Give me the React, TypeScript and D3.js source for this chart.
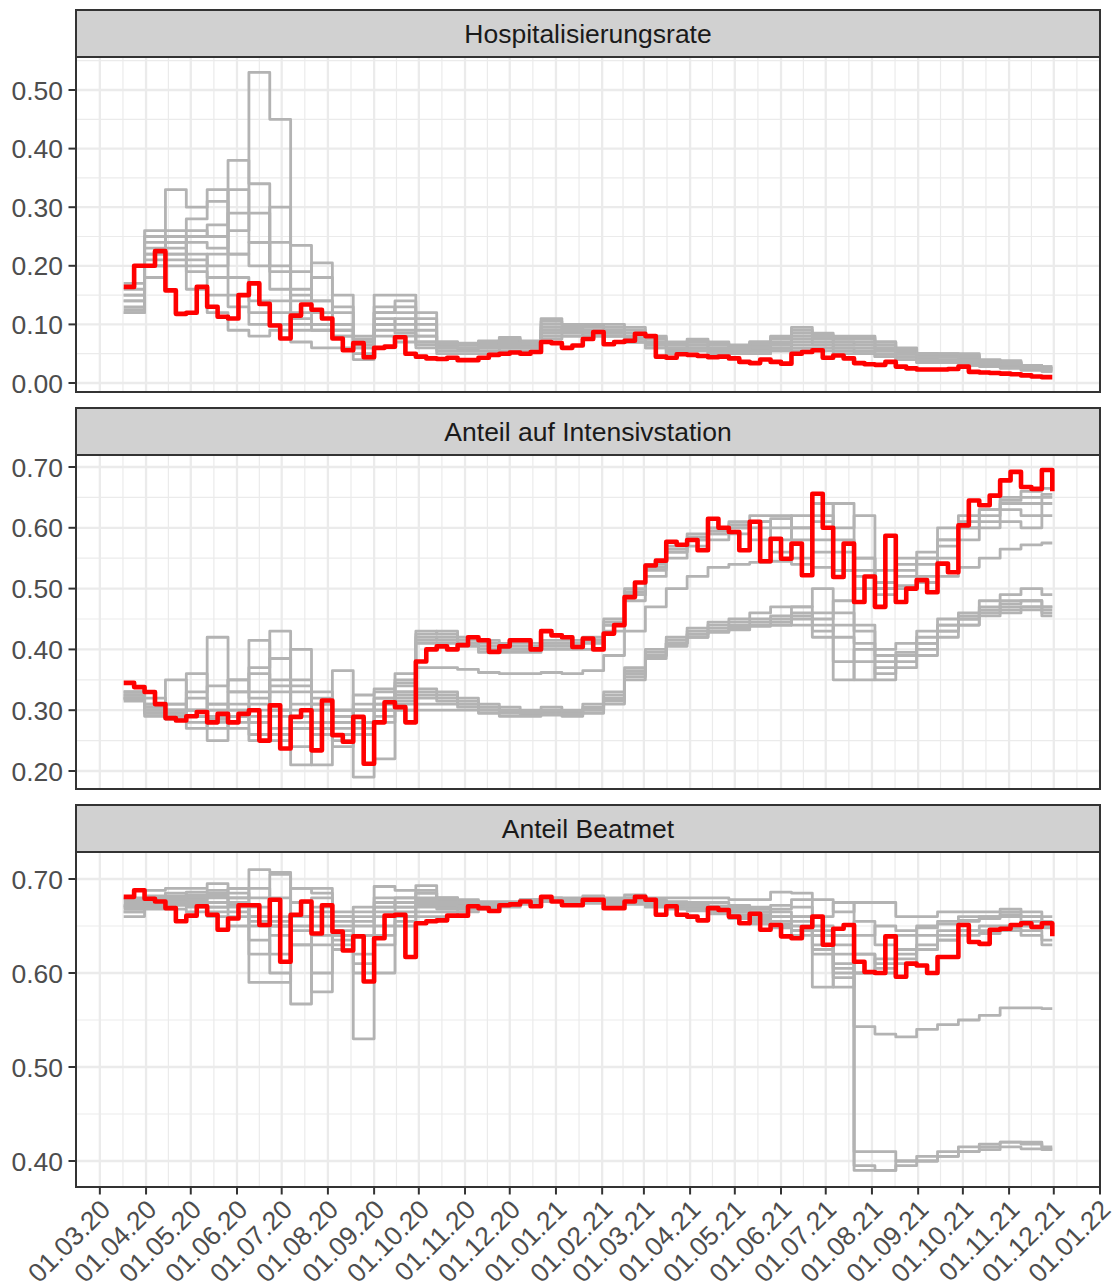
import React from "react";
import * as d3 from "d3";

// ---------- DATA ----------
const weekStart = new Date(2020, 2, 17);
const nWeeks = 90;
const xDomain: [Date, Date] = [new Date(2020, 1, 14), new Date(2022, 0, 1)];
const monthBreaks = d3.timeMonth.range(new Date(2020, 2, 1), new Date(2022, 0, 2));

const facetTitles = ["Hospitalisierungsrate", "Anteil auf Intensivstation", "Anteil Beatmet"];
const hospTicks = [0, 0.1, 0.2, 0.3, 0.4, 0.5];
const icuTicks = [0.2, 0.3, 0.4, 0.5, 0.6, 0.7];
const ventTicks = [0.4, 0.5, 0.6, 0.7];

const redHosp = [
  0.164, 0.2, 0.2, 0.225, 0.158, 0.118, 0.12, 0.164, 0.13, 0.113,
  0.11, 0.15, 0.17, 0.135, 0.098, 0.076, 0.115, 0.134, 0.125, 0.11,
  0.076, 0.056, 0.068, 0.044, 0.06, 0.062, 0.078, 0.05, 0.045, 0.042,
  0.041, 0.043, 0.039, 0.039, 0.043, 0.048, 0.05, 0.052, 0.05, 0.053,
  0.07, 0.068, 0.06, 0.064, 0.075, 0.087, 0.066, 0.07, 0.072, 0.084,
  0.08, 0.045, 0.043, 0.049, 0.048, 0.046, 0.044, 0.045, 0.042, 0.036,
  0.034, 0.04, 0.036, 0.033, 0.05, 0.053, 0.056, 0.043, 0.047, 0.042,
  0.034, 0.032, 0.031, 0.036, 0.028, 0.025, 0.023, 0.023, 0.023, 0.024,
  0.028, 0.019, 0.018, 0.017, 0.016, 0.015, 0.013, 0.011, 0.01, 0.01,
];
const redIcu = [
  0.345, 0.338, 0.33, 0.31, 0.287, 0.283, 0.29, 0.297, 0.28, 0.294,
  0.28, 0.294, 0.3, 0.25, 0.308, 0.237, 0.289, 0.3, 0.234, 0.316,
  0.259, 0.248, 0.289, 0.212, 0.28, 0.313, 0.305, 0.28, 0.38, 0.4,
  0.405, 0.4, 0.407, 0.42, 0.415, 0.396, 0.405, 0.415, 0.415, 0.4,
  0.43, 0.423, 0.42, 0.404, 0.418, 0.4, 0.426, 0.44, 0.486, 0.51,
  0.538, 0.546, 0.577, 0.572, 0.58, 0.563, 0.615, 0.6, 0.593, 0.563,
  0.61, 0.545, 0.582, 0.549, 0.574, 0.522, 0.656, 0.6, 0.519, 0.574,
  0.478, 0.52, 0.47, 0.587, 0.478, 0.5, 0.514, 0.494, 0.541, 0.527,
  0.604, 0.645, 0.637, 0.653, 0.678, 0.692, 0.667, 0.664, 0.695, 0.66,
];
const redVent = [
  0.681, 0.688, 0.679, 0.676, 0.669, 0.655, 0.661, 0.671, 0.662, 0.646,
  0.658, 0.672, 0.672, 0.651, 0.678, 0.612, 0.662, 0.676, 0.642, 0.672,
  0.644, 0.624, 0.639, 0.591, 0.637, 0.661, 0.662, 0.617, 0.653, 0.655,
  0.656, 0.661, 0.661, 0.671, 0.669, 0.666, 0.672, 0.673, 0.676, 0.671,
  0.681, 0.676, 0.672, 0.672, 0.678, 0.678, 0.669, 0.669, 0.676, 0.681,
  0.678, 0.662, 0.671, 0.662, 0.66, 0.656, 0.669, 0.667, 0.66, 0.653,
  0.663, 0.646, 0.651, 0.639, 0.637, 0.649, 0.66, 0.63, 0.647, 0.651,
  0.612, 0.601, 0.6, 0.639, 0.596, 0.61, 0.608, 0.6, 0.617, 0.617,
  0.651, 0.633, 0.631, 0.646, 0.647, 0.651, 0.653, 0.649, 0.653, 0.639,
];

// gray series: biweekly values (every 2nd week)
const grayHosp = [
  [0.14, 0.24, 0.25, 0.22, 0.2, 0.29, 0.53, 0.45, 0.12, 0.1, 0.09, 0.07, 0.1, 0.09, 0.07, 0.065, 0.06, 0.065, 0.068, 0.065, 0.09, 0.09, 0.085, 0.085, 0.075, 0.07, 0.06, 0.065, 0.06, 0.058, 0.06, 0.065, 0.07, 0.065, 0.06, 0.06, 0.055, 0.045, 0.042, 0.04, 0.04, 0.035, 0.032, 0.028, 0.025],
  [0.12, 0.22, 0.23, 0.25, 0.27, 0.38, 0.34, 0.16, 0.1, 0.09, 0.08, 0.065, 0.09, 0.085, 0.07, 0.06, 0.058, 0.06, 0.062, 0.06, 0.08, 0.085, 0.08, 0.08, 0.07, 0.065, 0.058, 0.06, 0.055, 0.055, 0.058, 0.06, 0.08, 0.07, 0.065, 0.065, 0.06, 0.05, 0.045, 0.045, 0.042, 0.035, 0.03, 0.028, 0.025],
  [0.15, 0.26, 0.33, 0.3, 0.31, 0.22, 0.2, 0.3, 0.235, 0.14, 0.1, 0.075, 0.11, 0.1, 0.08, 0.07, 0.065, 0.068, 0.072, 0.068, 0.1, 0.1, 0.095, 0.09, 0.08, 0.075, 0.065, 0.07, 0.065, 0.06, 0.065, 0.07, 0.095, 0.085, 0.08, 0.08, 0.07, 0.06, 0.05, 0.05, 0.05, 0.04, 0.038, 0.03, 0.028],
  [0.16, 0.22, 0.26, 0.28, 0.33, 0.22, 0.24, 0.19, 0.19, 0.205, 0.15, 0.08, 0.15, 0.15, 0.12, 0.07, 0.068, 0.072, 0.078, 0.072, 0.11, 0.1, 0.1, 0.1, 0.095, 0.08, 0.07, 0.075, 0.07, 0.065, 0.07, 0.08, 0.08, 0.08, 0.075, 0.075, 0.07, 0.055, 0.05, 0.048, 0.045, 0.038, 0.035, 0.03, 0.028],
  [0.15, 0.2, 0.22, 0.2, 0.22, 0.15, 0.14, 0.12, 0.15, 0.12, 0.12, 0.07, 0.13, 0.12, 0.09, 0.065, 0.065, 0.065, 0.07, 0.068, 0.09, 0.095, 0.09, 0.09, 0.085, 0.07, 0.065, 0.07, 0.065, 0.06, 0.07, 0.075, 0.075, 0.075, 0.07, 0.065, 0.06, 0.05, 0.048, 0.048, 0.045, 0.035, 0.035, 0.025, 0.022],
  [0.12, 0.18, 0.2, 0.19, 0.15, 0.13, 0.1, 0.1, 0.09, 0.09, 0.08, 0.06, 0.08, 0.08, 0.065, 0.055, 0.055, 0.055, 0.06, 0.06, 0.08, 0.08, 0.08, 0.08, 0.07, 0.06, 0.05, 0.055, 0.05, 0.05, 0.05, 0.055, 0.06, 0.06, 0.055, 0.05, 0.045, 0.04, 0.035, 0.035, 0.03, 0.028, 0.025, 0.022, 0.02],
  [0.13, 0.2, 0.21, 0.16, 0.12, 0.09, 0.08, 0.09, 0.07, 0.06, 0.06, 0.04, 0.06, 0.07, 0.06, 0.05, 0.05, 0.05, 0.055, 0.055, 0.075, 0.08, 0.085, 0.08, 0.07, 0.06, 0.05, 0.055, 0.05, 0.05, 0.05, 0.055, 0.055, 0.055, 0.05, 0.05, 0.045, 0.04, 0.035, 0.035, 0.03, 0.03, 0.028, 0.022, 0.02],
  [0.17, 0.25, 0.24, 0.26, 0.25, 0.33, 0.24, 0.2, 0.16, 0.14, 0.1, 0.075, 0.12, 0.13, 0.1, 0.068, 0.066, 0.07, 0.075, 0.07, 0.105, 0.1, 0.098, 0.095, 0.09, 0.078, 0.068, 0.072, 0.068, 0.062, 0.068, 0.078, 0.09, 0.082, 0.078, 0.078, 0.065, 0.058, 0.05, 0.05, 0.048, 0.038, 0.036, 0.03, 0.026],
  [0.125, 0.21, 0.24, 0.21, 0.18, 0.18, 0.12, 0.14, 0.11, 0.1, 0.09, 0.06, 0.1, 0.11, 0.08, 0.06, 0.06, 0.062, 0.065, 0.063, 0.085, 0.088, 0.085, 0.085, 0.078, 0.065, 0.055, 0.06, 0.058, 0.055, 0.055, 0.06, 0.065, 0.065, 0.06, 0.055, 0.05, 0.045, 0.04, 0.04, 0.035, 0.032, 0.03, 0.025, 0.022],
  [0.14, 0.23, 0.22, 0.24, 0.23, 0.26, 0.29, 0.24, 0.14, 0.18, 0.13, 0.05, 0.12, 0.14, 0.11, 0.062, 0.06, 0.063, 0.068, 0.066, 0.095, 0.092, 0.09, 0.088, 0.08, 0.068, 0.06, 0.065, 0.06, 0.058, 0.062, 0.068, 0.085, 0.078, 0.07, 0.07, 0.058, 0.05, 0.045, 0.045, 0.04, 0.036, 0.032, 0.027, 0.024],
];
const grayIcu = [
  [0.33, 0.31, 0.35, 0.3, 0.42, 0.33, 0.415, 0.3, 0.4, 0.3, 0.365, 0.3, 0.32, 0.35, 0.43, 0.425, 0.42, 0.415, 0.41, 0.41, 0.415, 0.415, 0.42, 0.45, 0.5, 0.54, 0.57, 0.59, 0.6, 0.61, 0.62, 0.62, 0.6, 0.64, 0.6, 0.62, 0.53, 0.55, 0.55, 0.57, 0.6, 0.63, 0.65, 0.66, 0.665],
  [0.32, 0.3, 0.3, 0.36, 0.25, 0.35, 0.37, 0.43, 0.21, 0.31, 0.24, 0.325, 0.335, 0.36, 0.42, 0.415, 0.41, 0.4, 0.4, 0.4, 0.405, 0.405, 0.41, 0.44, 0.49, 0.53, 0.56, 0.58, 0.59, 0.6, 0.6, 0.58, 0.62, 0.56, 0.64, 0.55, 0.51, 0.53, 0.56, 0.6, 0.62, 0.62, 0.63, 0.62, 0.64],
  [0.325, 0.3, 0.29, 0.29, 0.3, 0.29, 0.28, 0.385, 0.3, 0.21, 0.28, 0.19, 0.22, 0.34, 0.41, 0.41, 0.405, 0.395, 0.395, 0.395, 0.4, 0.4, 0.4, 0.43, 0.48, 0.52, 0.55, 0.57, 0.58, 0.59, 0.58, 0.56, 0.55, 0.58, 0.53, 0.5, 0.49, 0.52, 0.52, 0.55, 0.58, 0.6, 0.61, 0.6, 0.62],
  [0.32, 0.295, 0.295, 0.29, 0.29, 0.29, 0.25, 0.27, 0.27, 0.28, 0.26, 0.3, 0.32, 0.33, 0.37, 0.37, 0.367, 0.362, 0.36, 0.36, 0.362, 0.36, 0.365, 0.39, 0.43, 0.47, 0.5, 0.52, 0.535, 0.54, 0.543, 0.545, 0.54, 0.535, 0.53, 0.52, 0.51, 0.505, 0.51, 0.52, 0.535, 0.55, 0.565, 0.572, 0.575],
  [0.325, 0.3, 0.3, 0.32, 0.31, 0.33, 0.32, 0.34, 0.34, 0.32, 0.3, 0.31, 0.33, 0.325, 0.335, 0.33, 0.32, 0.31, 0.305, 0.3, 0.305, 0.3, 0.31, 0.33, 0.37, 0.4, 0.42, 0.435, 0.445, 0.45, 0.46, 0.47, 0.47, 0.5, 0.46, 0.44, 0.4, 0.41, 0.43, 0.45, 0.46, 0.48, 0.49, 0.5, 0.49],
  [0.32, 0.29, 0.285, 0.27, 0.285, 0.28, 0.3, 0.26, 0.27, 0.26, 0.27, 0.26, 0.3, 0.31, 0.32, 0.315, 0.31, 0.305, 0.3, 0.295, 0.3, 0.295, 0.3, 0.32, 0.36, 0.39, 0.41, 0.425, 0.435, 0.44, 0.445, 0.45, 0.46, 0.42, 0.38, 0.35, 0.37, 0.39, 0.42, 0.44, 0.45, 0.47, 0.48, 0.48, 0.47],
  [0.33, 0.31, 0.31, 0.3, 0.3, 0.31, 0.29, 0.29, 0.28, 0.27, 0.28, 0.27, 0.29, 0.3, 0.31, 0.31, 0.305, 0.3, 0.295, 0.293, 0.295, 0.29, 0.295, 0.31, 0.35, 0.385, 0.405, 0.42, 0.43, 0.435, 0.44, 0.44, 0.45, 0.44, 0.35, 0.4, 0.35, 0.38, 0.4, 0.43, 0.44, 0.46, 0.47, 0.47, 0.465],
  [0.315, 0.305, 0.3, 0.29, 0.28, 0.27, 0.26, 0.25, 0.24, 0.27, 0.25, 0.26, 0.28, 0.3, 0.3, 0.3, 0.3, 0.295, 0.29, 0.29, 0.292, 0.292, 0.3, 0.315, 0.355, 0.39, 0.41, 0.425, 0.43, 0.437, 0.44, 0.445, 0.44, 0.46, 0.42, 0.38, 0.38, 0.39, 0.41, 0.43, 0.45, 0.46, 0.465, 0.47, 0.455],
  [0.32, 0.295, 0.29, 0.28, 0.27, 0.29, 0.28, 0.33, 0.29, 0.28, 0.3, 0.28, 0.3, 0.315, 0.325, 0.32, 0.31, 0.3, 0.298, 0.295, 0.298, 0.296, 0.305, 0.325, 0.365, 0.395, 0.415, 0.43, 0.44, 0.445, 0.45, 0.455, 0.47, 0.45, 0.48, 0.41, 0.36, 0.395, 0.41, 0.44, 0.455, 0.465, 0.475, 0.48, 0.47],
  [0.318, 0.3, 0.295, 0.3, 0.29, 0.3, 0.31, 0.3, 0.31, 0.3, 0.29, 0.3, 0.31, 0.32, 0.33, 0.325, 0.315, 0.305, 0.3, 0.297, 0.3, 0.298, 0.302, 0.318, 0.36, 0.39, 0.41, 0.42, 0.428, 0.432, 0.438, 0.44, 0.455, 0.43, 0.44, 0.43, 0.39, 0.37, 0.39, 0.42, 0.44, 0.455, 0.46, 0.465, 0.46],
  [0.33, 0.32, 0.31, 0.33, 0.34, 0.35, 0.33, 0.35, 0.33, 0.31, 0.29, 0.3, 0.31, 0.345, 0.425, 0.43, 0.415, 0.41, 0.405, 0.405, 0.41, 0.41, 0.415, 0.44, 0.49, 0.535, 0.565, 0.585, 0.595, 0.605, 0.61, 0.6, 0.58, 0.61, 0.56, 0.55, 0.5, 0.5, 0.54, 0.58, 0.6, 0.61, 0.64, 0.64, 0.65],
  [0.325, 0.305, 0.3, 0.3, 0.31, 0.3, 0.36, 0.3, 0.35, 0.33, 0.3, 0.28, 0.3, 0.33, 0.415, 0.42, 0.41, 0.405, 0.4, 0.4, 0.41, 0.41, 0.415, 0.445, 0.495, 0.535, 0.56, 0.58, 0.59, 0.6, 0.61, 0.615, 0.6, 0.62, 0.58, 0.53, 0.5, 0.54, 0.55, 0.58, 0.61, 0.63, 0.645, 0.65, 0.655],
];
const grayVent = [
  [0.68, 0.688, 0.69, 0.69, 0.695, 0.69, 0.71, 0.707, 0.69, 0.69, 0.665, 0.67, 0.692, 0.688, 0.693, 0.68, 0.678, 0.676, 0.676, 0.678, 0.68, 0.68, 0.682, 0.68, 0.683, 0.68, 0.68, 0.68, 0.68, 0.678, 0.678, 0.686, 0.685, 0.678, 0.665, 0.675, 0.675, 0.66, 0.66, 0.665, 0.665, 0.665, 0.668, 0.665, 0.66],
  [0.675, 0.68, 0.685, 0.682, 0.68, 0.68, 0.635, 0.6, 0.567, 0.68, 0.655, 0.665, 0.68, 0.68, 0.685, 0.678, 0.676, 0.675, 0.675, 0.677, 0.679, 0.678, 0.68, 0.678, 0.68, 0.678, 0.676, 0.675, 0.675, 0.672, 0.67, 0.668, 0.67, 0.63, 0.585, 0.64, 0.65, 0.645, 0.65, 0.655, 0.66, 0.66, 0.665, 0.66, 0.655],
  [0.67, 0.675, 0.678, 0.675, 0.675, 0.67, 0.59, 0.59, 0.66, 0.58, 0.645, 0.53, 0.6, 0.67, 0.68, 0.675, 0.672, 0.673, 0.674, 0.676, 0.678, 0.677, 0.678, 0.676, 0.678, 0.676, 0.674, 0.672, 0.67, 0.668, 0.665, 0.66, 0.655, 0.585, 0.64, 0.62, 0.6, 0.61, 0.625, 0.635, 0.645, 0.65, 0.65, 0.65, 0.648],
  [0.665, 0.67, 0.672, 0.67, 0.665, 0.66, 0.66, 0.65, 0.65, 0.64, 0.635, 0.64, 0.665, 0.66, 0.67, 0.67, 0.67, 0.671, 0.672, 0.675, 0.677, 0.676, 0.677, 0.675, 0.676, 0.674, 0.672, 0.67, 0.668, 0.665, 0.66, 0.655, 0.65, 0.645, 0.62, 0.6, 0.615, 0.62, 0.63, 0.64, 0.645, 0.645, 0.648, 0.645, 0.635],
  [0.66, 0.668, 0.668, 0.665, 0.66, 0.65, 0.65, 0.655, 0.63, 0.65, 0.625, 0.62, 0.64, 0.65, 0.66, 0.66, 0.665, 0.668, 0.67, 0.673, 0.676, 0.675, 0.676, 0.674, 0.675, 0.672, 0.67, 0.668, 0.665, 0.66, 0.655, 0.65, 0.645, 0.64, 0.61, 0.395, 0.39, 0.4, 0.4, 0.405, 0.41, 0.415, 0.42, 0.42, 0.413],
  [0.672, 0.676, 0.68, 0.678, 0.67, 0.665, 0.67, 0.66, 0.645, 0.66, 0.64, 0.65, 0.66, 0.665, 0.675, 0.672, 0.67, 0.67, 0.672, 0.675, 0.678, 0.674, 0.675, 0.673, 0.674, 0.671, 0.669, 0.667, 0.664, 0.66, 0.655, 0.65, 0.645, 0.64, 0.6, 0.543, 0.535, 0.532, 0.54, 0.545, 0.55, 0.555, 0.563, 0.563, 0.562],
  [0.668, 0.672, 0.675, 0.68, 0.685, 0.675, 0.655, 0.62, 0.66, 0.63, 0.63, 0.61, 0.65, 0.655, 0.665, 0.665, 0.668, 0.669, 0.671, 0.674, 0.677, 0.673, 0.674, 0.672, 0.673, 0.67, 0.668, 0.666, 0.663, 0.658, 0.652, 0.648, 0.64, 0.62, 0.595, 0.39, 0.39, 0.395, 0.4, 0.41, 0.415, 0.418, 0.42, 0.418, 0.415],
  [0.678, 0.682, 0.682, 0.686, 0.688, 0.685, 0.68, 0.68, 0.675, 0.665, 0.65, 0.655, 0.67, 0.675, 0.685, 0.68, 0.677, 0.675, 0.675, 0.678, 0.68, 0.679, 0.68, 0.678, 0.68, 0.677, 0.675, 0.673, 0.671, 0.67, 0.668, 0.665, 0.66, 0.65, 0.63, 0.41, 0.41, 0.4, 0.405, 0.405, 0.41, 0.412, 0.415, 0.413, 0.412],
  [0.672, 0.678, 0.68, 0.683, 0.684, 0.69, 0.66, 0.705, 0.66, 0.67, 0.66, 0.64, 0.67, 0.68, 0.688, 0.68, 0.676, 0.674, 0.674, 0.676, 0.678, 0.678, 0.68, 0.677, 0.679, 0.677, 0.675, 0.673, 0.671, 0.668, 0.665, 0.672, 0.678, 0.66, 0.675, 0.62, 0.61, 0.625, 0.64, 0.645, 0.655, 0.66, 0.662, 0.66, 0.655],
  [0.665, 0.672, 0.675, 0.678, 0.682, 0.672, 0.62, 0.65, 0.63, 0.6, 0.64, 0.6, 0.63, 0.66, 0.672, 0.668, 0.668, 0.67, 0.672, 0.674, 0.676, 0.675, 0.677, 0.675, 0.676, 0.673, 0.671, 0.669, 0.666, 0.662, 0.658, 0.652, 0.645, 0.625, 0.605, 0.6, 0.605, 0.615, 0.625, 0.635, 0.64, 0.642, 0.645, 0.64, 0.63],
  [0.67, 0.674, 0.676, 0.672, 0.67, 0.68, 0.69, 0.64, 0.69, 0.685, 0.66, 0.66, 0.675, 0.67, 0.678, 0.676, 0.674, 0.672, 0.673, 0.675, 0.677, 0.676, 0.678, 0.676, 0.677, 0.675, 0.673, 0.671, 0.669, 0.666, 0.662, 0.66, 0.66, 0.64, 0.64, 0.655, 0.63, 0.64, 0.648, 0.652, 0.656, 0.658, 0.66, 0.655, 0.65],
];

// ---------- LAYOUT ----------
const W = 1118;
const H = 1288;
const PL = 76;
const PR = 1100;
const FONT = "'Liberation Sans', Arial, Helvetica, sans-serif";
const FS = 26.5;

const layouts = [
  { stripTop: 10, top: 57, bottom: 392, tickPx: [383, 90] },
  { stripTop: 408, top: 455, bottom: 789, tickPx: [771, 467] },
  { stripTop: 805, top: 852, bottom: 1187, tickPx: [1161, 879] },
];

const weeks = d3.range(nWeeks).map((k) => d3.timeDay.offset(weekStart, 7 * k));

export default function App() {
  const x = d3.scaleTime().domain(xDomain).range([PL, PR]);
  const fmt = d3.timeFormat("%d.%m.%y");
  const yfmt = d3.format(".2f");

  const panels = [
    { title: facetTitles[0], ticks: hospTicks, red: redHosp, gray: grayHosp },
    { title: facetTitles[1], ticks: icuTicks, red: redIcu, gray: grayIcu },
    { title: facetTitles[2], ticks: ventTicks, red: redVent, gray: grayVent },
  ];

  const monthPx = monthBreaks.map((d) => x(d));
  const minorX: number[] = [];
  for (let i = 0; i < monthBreaks.length - 1; i++) {
    minorX.push(x(new Date((monthBreaks[i].getTime() + monthBreaks[i + 1].getTime()) / 2)));
  }

  return (
    <svg width={W} height={H} style={{ position: "absolute", left: 0, top: 0, background: "#fff" }} fontFamily={FONT}>
      <rect x={0} y={0} width={W} height={H} fill="#fff" />
      {panels.map((p, pi) => {
        const L = layouts[pi];
        const t = p.ticks;
        const y = d3
          .scaleLinear()
          .domain([t[0], t[t.length - 1]])
          .range([L.tickPx[0], L.tickPx[1]]);
        const step = t[1] - t[0];
        const minorY: number[] = [];
        for (let v = t[0] - step / 2; v <= t[t.length - 1] + step; v += step) {
          const py = y(v);
          if (py > L.top && py < L.bottom) minorY.push(py);
        }
        const line = d3
          .line<[Date, number]>()
          .x((d) => x(d[0]))
          .y((d) => y(d[1]))
          .curve(d3.curveStepAfter);
        const redPts: [Date, number][] = p.red.map((v, k) => [weeks[k], v] as [Date, number]);
        const grayPaths = p.gray.map((s) => {
          const pts: [Date, number][] = s
            .filter((_, j) => 2 * j < nWeeks)
            .map((v, j) => [weeks[2 * j], v] as [Date, number]);
          pts.push([weeks[nWeeks - 1], pts[pts.length - 1][1]]);
          return line(pts) || "";
        });
        const clipId = `clip${pi}`;
        return (
          <g key={pi}>
            <defs>
              <clipPath id={clipId}>
                <rect x={PL} y={L.top} width={PR - PL} height={L.bottom - L.top} />
              </clipPath>
            </defs>
            {/* strip */}
            <rect x={PL} y={L.stripTop} width={PR - PL} height={L.top - L.stripTop} fill="#D1D1D1" stroke="#333333" strokeWidth={2} />
            <text x={(PL + PR) / 2} y={(L.stripTop + L.top) / 2} dy="0.35em" textAnchor="middle" fontSize={FS} fill="#1A1A1A">
              {p.title}
            </text>
            {/* panel background & grid */}
            <rect x={PL} y={L.top} width={PR - PL} height={L.bottom - L.top} fill="#fff" />
            <g clipPath={`url(#${clipId})`}>
              {minorY.map((py, i) => (
                <line key={"my" + i} x1={PL} x2={PR} y1={py} y2={py} stroke="#EBEBEB" strokeWidth={1.2} />
              ))}
              {minorX.map((px, i) => (
                <line key={"mx" + i} x1={px} x2={px} y1={L.top} y2={L.bottom} stroke="#EBEBEB" strokeWidth={1.2} />
              ))}
              {t.map((v, i) => (
                <line key={"gy" + i} x1={PL} x2={PR} y1={y(v)} y2={y(v)} stroke="#EBEBEB" strokeWidth={2.3} />
              ))}
              {monthPx.map((px, i) => (
                <line key={"gx" + i} x1={px} x2={px} y1={L.top} y2={L.bottom} stroke="#EBEBEB" strokeWidth={2.3} />
              ))}
              {grayPaths.map((d, i) => (
                <path key={"g" + i} d={d} fill="none" stroke="#B3B3B3" strokeWidth={2.8} strokeLinejoin="round" />
              ))}
              <path d={line(redPts) || ""} fill="none" stroke="#FF0000" strokeWidth={4.6} strokeLinejoin="round" />
            </g>
            <rect x={PL} y={L.top} width={PR - PL} height={L.bottom - L.top} fill="none" stroke="#333333" strokeWidth={2} />
            {/* y axis */}
            {t.map((v, i) => (
              <g key={"yt" + i}>
                <line x1={PL - 7.5} x2={PL} y1={y(v)} y2={y(v)} stroke="#333333" strokeWidth={2} />
                <text x={PL - 13} y={y(v)} dy="0.36em" textAnchor="end" fontSize={FS} fill="#4D4D4D">
                  {yfmt(v)}
                </text>
              </g>
            ))}
            {/* x axis on last panel */}
            {pi === panels.length - 1 &&
              monthBreaks.map((d, i) => (
                <g key={"xt" + i}>
                  <line x1={x(d)} x2={x(d)} y1={L.bottom} y2={L.bottom + 7.5} stroke="#333333" strokeWidth={2} />
                  <text
                    transform={`translate(${x(d) - 1},${L.bottom + 11}) rotate(-45)`}
                    textAnchor="end"
                    dy="0.7em"
                    fontSize={FS}
                    fill="#4D4D4D"
                  >
                    {fmt(d)}
                  </text>
                </g>
              ))}
          </g>
        );
      })}
    </svg>
  );
}
